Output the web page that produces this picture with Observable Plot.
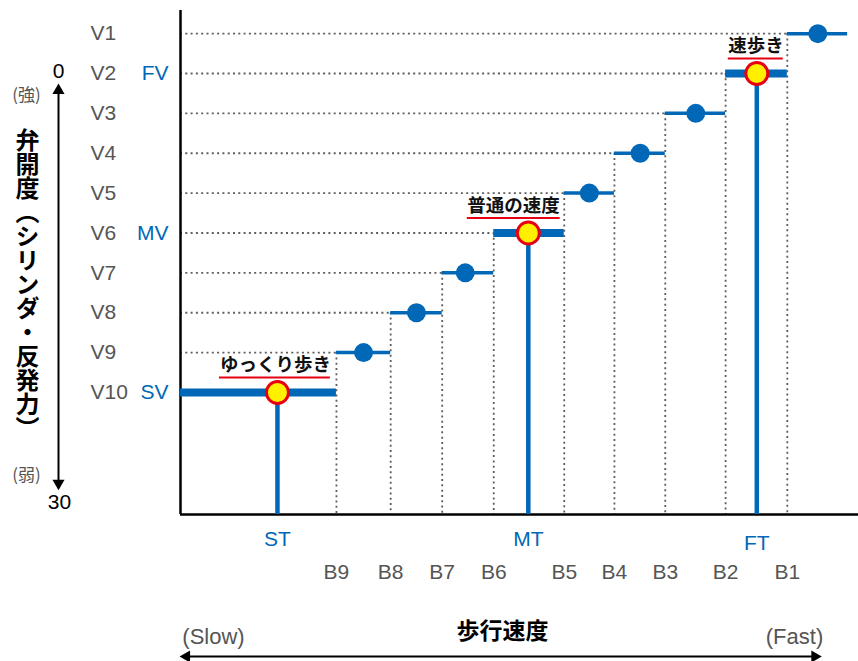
<!DOCTYPE html>
<html><head><meta charset="utf-8">
<script src="https://cdn.jsdelivr.net/npm/d3@7"></script>
<script src="https://cdn.jsdelivr.net/npm/@observablehq/plot@0.6"></script>
<style>body{margin:0;background:#fff} svg{display:block}</style>
</head><body><div id="chart"></div>
<script>
// ---- data ----
const levelNames = ["V1","V2","V3","V4","V5","V6","V7","V8","V9","V10"];
const levelRank  = [1,2,3,4,5,6,7,8,9,10];
const stepStart  = [89.5, 80.4, 71.5, 64.0, 56.6, 46.2, 38.6, 31.0, 23.0, 0];
const stepEnd    = [98.4, 89.5, 80.4, 71.5, 64.0, 56.6, 46.2, 38.6, 31.0, 23.0];
const pointSpeed = [94.0, 85.0, 76.0, 67.8, 60.3, 51.3, 42.0, 34.8, 27.0, 14.3];
const highlightNames = ["V2","V6","V10"];
const zoneLabels     = ["FV","MV","SV"];
const tempoLabels    = ["FT","MT","ST"];
const annotationTexts = ["速歩き","普通の速度","ゆっくり歩き"];
const annotationCenter = [84.9, 49.1, 14.0];
const underlineStart  = [80.8, 42.3, 5.75];
const underlineEnd    = [88.9, 56.0, 22.1];
const breakNames = ["B1","B2","B3","B4","B5","B6","B7","B8","B9"];
const breakSpeed = [89.5, 80.4, 71.5, 64.0, 56.6, 46.2, 38.6, 31.0, 23.0];
const speedDomain = [0, 100];
const rankDomain  = [0.42, 13.06];
const openingScaleTop = 2.5, openingScaleBottom = 12.2; // arrow along the opening axis (rank units)
const speedArrowStart = 0.3, speedArrowEnd = 94.0;
const yTitle = "弁開度（シリンダ・反発力）";
const xTitle = "歩行速度";

// ---- tables ----
const rows = levelNames.map((n,i)=>({name:n, rank:levelRank[i], x1:stepStart[i], x2:stepEnd[i], px:pointSpeed[i], hi: highlightNames.includes(n)}));
const hiRows = highlightNames.map((n,i)=>{const r=rows.find(d=>d.name===n); return {...r, zone:zoneLabels[i], tempo:tempoLabels[i], note:annotationTexts[i], nx:annotationCenter[i], u1:underlineStart[i], u2:underlineEnd[i]};});
const breaks = breakNames.map((n,i)=>({name:n, x:breakSpeed[i]}));
const bottom = rankDomain[1];
const BLUE = "#0068b7", GRAY = "#555555", DOT = "#5e5e5e";
const LAT = "'Liberation Sans', Arial, sans-serif";
const JP = "'Noto Sans CJK JP', sans-serif";
const C = {textAnchor:"middle", lineAnchor:"middle"};

const chart = Plot.plot({
  width: 858, height: 661,
  marginLeft: 180, marginRight: 0, marginTop: 10, marginBottom: 147,
  x: {domain: speedDomain, axis: null},
  y: {domain: rankDomain, reverse: true, axis: null},
  style: {fontFamily: LAT, background: "#fff"},
  marks: [
    // dotted guides
    Plot.ruleY(rows.filter(d=>d.rank<10), {y:"rank", x1:0, x2:"x1", stroke:DOT, strokeWidth:1.8, strokeDasharray:"2,3.3"}),
    Plot.ruleX(rows.filter(d=>d.rank<10), {x:"x1", y1:"rank", y2:bottom, stroke:DOT, strokeWidth:1.8, strokeDasharray:"2,3.3"}),
    // frame axes
    Plot.ruleX([0], {stroke:"#000", strokeWidth:2.5}),
    Plot.ruleY([bottom], {stroke:"#000", strokeWidth:2.5}),
    // highlighted verticals
    Plot.ruleX(hiRows, {x:"px", y1:"rank", y2:bottom, stroke:BLUE, strokeWidth:4.5}),
    // steps
    Plot.ruleY(rows.filter(d=>!d.hi), {y:"rank", x1:"x1", x2:"x2", stroke:BLUE, strokeWidth:3.5}),
    Plot.ruleY(rows.filter(d=>d.hi), {y:"rank", x1:"x1", x2:"x2", stroke:BLUE, strokeWidth:8}),
    // points
    Plot.dot(rows.filter(d=>!d.hi), {x:"px", y:"rank", r:9.5, fill:BLUE}),
    Plot.dot(hiRows, {x:"px", y:"rank", r:11, fill:"#fff000", stroke:"#e60012", strokeWidth:3}),
    // annotations
    Plot.ruleY(hiRows, {y:"rank", x1:"u1", x2:"u2", dy:-15, stroke:"#e60012", strokeWidth:1.8}),
    Plot.text(hiRows, {x:"nx", y:"rank", text:"note", dy:-27, fontSize:18.5, fontWeight:"bold", fontFamily:JP, fill:"#111"}),
    // left labels
    Plot.text(rows, {y:"rank", text:"name", frameAnchor:"left", dx:-90, textAnchor:"start", lineAnchor:"middle", fill:GRAY, fontSize:21}),
    Plot.text(hiRows, {y:"rank", text:"zone", frameAnchor:"left", dx:-12, textAnchor:"end", lineAnchor:"middle", fill:BLUE, fontSize:21}),
    // bottom labels
    Plot.text(hiRows.filter(d=>d.tempo!=="FT"), {x:"px", y:bottom, text:"tempo", dy:25, fill:BLUE, fontSize:21}),
    Plot.text(hiRows.filter(d=>d.tempo==="FT"), {x:"px", y:bottom, text:"tempo", dy:29, fill:BLUE, fontSize:21}),
    Plot.text(breaks, {x:"x", y:bottom, text:"name", dy:58, fill:GRAY, fontSize:21}),
    // left opening axis arrow
    Plot.link([0], {x1:0, x2:0, y1:openingScaleTop, y2:openingScaleBottom, dx:-122, stroke:"#000", strokeWidth:2}),
    Plot.dot([0], {x:0, y:openingScaleTop, dx:-122, dy:-3, symbol:"triangle", r:4.5, fill:"#000"}),
    Plot.dot([0], {x:0, y:openingScaleBottom, dx:-122, dy:3, symbol:"triangle", rotate:180, r:4.5, fill:"#000"}),
    Plot.text(["0"], {...C, frameAnchor:"top-left", dx:-122, dy:61, fontSize:21, fill:"#000"}),
    Plot.text(["30"], {...C, frameAnchor:"top-left", dx:-121, dy:492, fontSize:21, fill:"#000"}),
    Plot.text(["(強)"], {...C, frameAnchor:"top-left", dx:-154, dy:85, fontSize:17, fill:GRAY, fontFamily:JP}),
    Plot.text(["(弱)"], {...C, frameAnchor:"top-left", dx:-154, dy:465, fontSize:17, fill:GRAY, fontFamily:JP}),
    Plot.text([yTitle], {frameAnchor:"top-left", dx:-153, dy:100, textAnchor:"start", lineAnchor:"top", fontSize:24, fontWeight:"bold", fontFamily:JP, fill:"#000"}),
    // bottom speed arrow
    Plot.link([0], {x1:speedArrowStart, x2:speedArrowEnd, y1:bottom, y2:bottom, dy:142, stroke:"#000", strokeWidth:2}),
    Plot.dot([0], {x:speedArrowStart, y:bottom, dy:142, dx:4, symbol:"triangle", rotate:-90, r:4.5, fill:"#000"}),
    Plot.dot([0], {x:speedArrowEnd, y:bottom, dy:142, dx:-3, symbol:"triangle", rotate:90, r:4.5, fill:"#000"}),
    Plot.text(["(Slow)"], {...C, frameAnchor:"bottom-left", dx:33, dy:122, fontSize:22, fill:GRAY}),
    Plot.text(["(Fast)"], {...C, frameAnchor:"bottom-right", dx:-64, dy:122, fontSize:22, fill:GRAY}),
    Plot.text([xTitle], {...C, frameAnchor:"bottom", dx:-17, dy:117, fontSize:23, fontWeight:"bold", fontFamily:JP, fill:"#000"})
  ]
});
document.getElementById("chart").appendChild(chart);
// vertical writing for the y title
d3.select(chart).selectAll("text").filter(function(){return this.textContent===yTitle;})
  .attr("writing-mode","vertical-rl").style("writing-mode","vertical-rl").attr("dy",null);
</script></body></html>
